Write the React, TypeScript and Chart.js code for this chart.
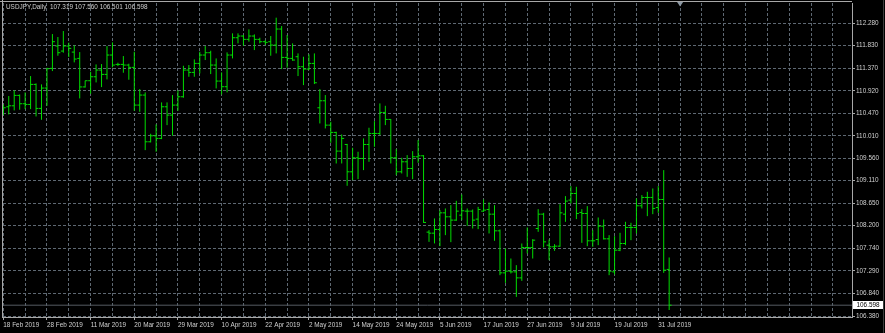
import React, { useEffect, useRef } from 'react';
import { Chart, registerables } from 'chart.js';

Chart.register(...registerables);

// ---- data ----
const symbolTitle = 'USDJPY,Daily';

const xTickLabels = [
  '18 Feb 2019', '28 Feb 2019', '11 Mar 2019', '20 Mar 2019', '29 Mar 2019', '10 Apr 2019',
  '22 Apr 2019', '2 May 2019', '14 May 2019', '24 May 2019', '5 Jun 2019', '17 Jun 2019',
  '27 Jun 2019', '9 Jul 2019', '19 Jul 2019', '31 Jul 2019',
];

const yTickLabels = [
  '106.380', '106.840', '107.290', '107.740', '108.200', '108.650', '109.110',
  '109.560', '110.010', '110.470', '110.920', '111.370', '111.830', '112.280',
];

const opens = [
  110.497, 110.598, 110.618, 110.827, 110.659, 110.645, 111.049, 110.565, 110.975, 111.372,
  111.822, 111.721, 111.822, 111.700, 111.573, 110.998, 111.123, 111.203, 111.338, 111.251,
  111.641, 111.452, 111.452, 111.439, 111.392, 110.632, 110.834, 109.892, 110.013, 109.960,
  110.598, 110.430, 110.632, 110.800, 111.338, 111.291, 111.472, 111.641, 111.688, 111.439,
  111.116, 111.002, 111.641, 111.990, 112.024, 111.957, 112.024, 111.957, 111.910, 111.910,
  111.842, 112.165, 111.593, 111.573, 111.607, 111.405, 111.358, 111.472, 110.578, 110.719,
  110.228, 110.081, 109.704, 109.838, 109.287, 109.570, 109.556, 109.838, 110.060, 110.060,
  110.484, 110.343, 109.570, 109.287, 109.489, 109.354, 109.590, 109.610, 108.071, 108.050,
  108.125, 108.460, 108.380, 108.313, 108.413, 108.494, 108.494, 108.333, 108.494, 108.527,
  108.433, 108.097, 107.250, 107.284, 107.270, 107.149, 107.761, 107.761, 108.144, 108.433,
  107.808, 107.775, 107.788, 108.433, 108.716, 108.850, 108.467, 108.447, 107.896, 107.922,
  108.191, 107.936, 107.270, 107.707, 107.842, 108.165, 108.165, 108.602, 108.770, 108.770,
  108.568, 108.729, 107.319,
];

const highs = [
  110.645, 110.814, 110.928, 110.847, 110.888, 111.217, 111.069, 111.049, 111.385, 112.064,
  112.004, 112.125, 111.889, 111.836, 111.700, 111.123, 111.304, 111.452, 111.459, 111.822,
  111.896, 111.486, 111.620, 111.466, 111.708, 110.955, 110.888, 110.054, 110.242, 110.686,
  110.686, 110.834, 110.928, 111.425, 111.439, 111.553, 111.708, 111.822, 111.728, 111.573,
  111.291, 111.694, 112.078, 112.078, 112.044, 112.158, 112.057, 111.990, 111.943, 112.024,
  112.394, 112.226, 112.044, 111.876, 111.674, 111.607, 111.654, 111.674, 110.955, 110.834,
  110.296, 110.094, 110.040, 109.850, 109.771, 109.691, 109.960, 110.175, 110.309, 110.666,
  110.618, 110.350, 109.744, 109.570, 109.623, 109.704, 109.926, 109.623, 108.111, 108.347,
  108.514, 108.548, 108.615, 108.702, 108.830, 108.548, 108.527, 108.581, 108.729, 108.669,
  108.615, 108.124, 107.741, 107.539, 107.405, 107.842, 108.165, 107.929, 108.534, 108.460,
  107.922, 107.828, 108.635, 108.797, 108.998, 108.985, 108.534, 108.595, 108.111, 108.366,
  108.326, 108.010, 107.990, 108.057, 108.279, 108.259, 108.750, 108.817, 108.884, 108.951,
  108.998, 109.321, 107.560,
];

const lows = [
  110.430, 110.443, 110.525, 110.538, 110.551, 110.551, 110.403, 110.336, 110.618, 111.318,
  111.627, 111.688, 111.600, 111.493, 110.767, 110.985, 110.861, 111.089, 110.995, 111.150,
  111.392, 111.419, 111.284, 111.143, 110.518, 110.497, 109.724, 109.880, 109.691, 109.946,
  110.228, 110.013, 110.518, 110.780, 111.203, 111.203, 111.271, 111.540, 111.257, 110.968,
  110.847, 110.888, 111.573, 111.876, 111.829, 111.910, 111.741, 111.876, 111.842, 111.627,
  111.674, 111.358, 111.385, 111.526, 111.217, 111.035, 111.338, 111.056, 110.262, 110.161,
  109.872, 109.455, 109.455, 109.005, 109.119, 109.139, 109.321, 109.489, 109.791, 110.027,
  110.228, 109.455, 109.220, 109.253, 109.186, 109.139, 109.469, 108.258, 107.875, 107.843,
  107.788, 108.010, 107.869, 108.299, 108.313, 108.198, 108.144, 108.131, 108.480, 108.044,
  107.896, 107.203, 107.048, 107.237, 106.766, 107.089, 107.640, 107.539, 108.077, 107.761,
  107.506, 107.694, 107.775, 108.279, 108.649, 108.333, 107.855, 107.788, 107.775, 107.808,
  107.922, 107.203, 107.217, 107.687, 107.808, 107.909, 108.044, 108.548, 108.393, 108.433,
  108.460, 107.250, 106.501,
];

const closes = [
  110.578, 110.618, 110.827, 110.659, 110.645, 111.049, 110.565, 110.975, 111.365, 111.910,
  111.688, 111.822, 111.775, 111.560, 110.998, 111.123, 111.203, 111.338, 111.251, 111.641,
  111.439, 111.452, 111.439, 111.392, 110.632, 110.834, 109.892, 110.013, 109.960, 110.598,
  110.430, 110.632, 110.800, 111.338, 111.291, 111.472, 111.641, 111.688, 111.439, 111.116,
  111.002, 111.641, 111.990, 112.024, 111.957, 112.024, 111.957, 111.910, 111.896, 111.842,
  112.165, 111.593, 111.573, 111.540, 111.405, 111.358, 111.472, 111.082, 110.719, 110.228,
  110.081, 109.704, 109.960, 109.287, 109.570, 109.556, 109.838, 110.060, 110.060, 110.484,
  110.343, 109.570, 109.287, 109.489, 109.354, 109.590, 109.610, 108.266, 108.050, 108.125,
  108.460, 108.380, 108.313, 108.494, 108.501, 108.494, 108.313, 108.527, 108.514, 108.433,
  108.097, 107.250, 107.284, 107.270, 107.149, 107.761, 107.761, 107.909, 108.433, 107.875,
  107.775, 107.788, 108.460, 108.696, 108.850, 108.447, 108.447, 107.896, 107.896, 108.191,
  107.936, 107.284, 107.707, 107.842, 108.165, 108.165, 108.602, 108.770, 108.770, 108.548,
  108.729, 107.304, 106.598,
];

const shiftMarkerIndex = 124;

// ---- style ----
const FONT = "'Liberation Sans', Arial, sans-serif";
const FONT_SIZE = 6.4;
const TEXT = '#d0d0d0';
const GRID = '#5e6872';
const FRAME = '#a8a8a8';
const BAR = '#00dc00';

export default function App() {
  const ref = useRef<HTMLCanvasElement | null>(null);

  useEffect(() => {
    const canvas = ref.current;
    if (!canvas) return;
    const n = opens.length;
    const tick = 0.45;
    const segs: any[] = [];
    for (let i = 0; i < n; i++) {
      segs.push({ x: i, y: lows[i] }, { x: i, y: highs[i] }, { x: i, y: null });
      segs.push({ x: i - tick, y: opens[i] }, { x: i, y: opens[i] }, { x: i, y: null });
      segs.push({ x: i, y: closes[i] }, { x: i + tick, y: closes[i] }, { x: i, y: null });
    }
    const xMin = -0.055;
    const xMax = 155.5;
    const last = n - 1;
    const lastClose = closes[last];

    const decor = {
      id: 'mt4decor',
      beforeDraw(chart: any) {
        const c = chart.ctx;
        c.save();
        c.fillStyle = '#000';
        c.fillRect(0, 0, chart.width, chart.height);
        c.restore();
      },
      afterDraw(chart: any) {
        const c = chart.ctx;
        const xs = chart.scales.x;
        const ys = chart.scales.y;
        const area = chart.chartArea;
        c.save();
        // frame
        c.strokeStyle = FRAME;
        c.lineWidth = 1;
        c.beginPath();
        c.moveTo(0, 1.5);
        c.lineTo(area.right, 1.5);
        c.moveTo(2.5, 0);
        c.lineTo(2.5, area.bottom + 1);
        c.stroke();
        c.strokeStyle = '#3c3c3c';
        c.beginPath();
        c.moveTo(883.5, 0);
        c.lineTo(883.5, chart.height);
        c.stroke();
        // header text
        c.font = `${FONT_SIZE}px ${FONT}`;
        c.fillStyle = TEXT;
        c.textBaseline = 'middle';
        c.textAlign = 'left';
        const hdr = `${symbolTitle}  ${opens[last].toFixed(3)} ${highs[last].toFixed(3)} ${lows[last].toFixed(3)} ${closes[last].toFixed(3)}`;
        c.fillText(hdr, 6, 7.5);
        // current price label
        const py = ys.getPixelForValue(lastClose);
        c.fillStyle = '#ffffff';
        c.fillRect(area.right + 1, Math.round(py) - 4, 30, 8);
        c.fillStyle = '#000000';
        c.fillText(lastClose.toFixed(3), area.right + 4.5, Math.round(py) + 0.5);
        // shift marker
        const mx = xs.getPixelForValue(shiftMarkerIndex);
        c.fillStyle = '#8b97a3';
        c.beginPath();
        c.moveTo(mx - 3, 2);
        c.lineTo(mx + 3, 2);
        c.lineTo(mx, 6.5);
        c.closePath();
        c.fill();
        c.restore();
      },
    };

    const chart = new Chart(canvas, {
      type: 'line',
      data: {
        datasets: [
          {
            data: segs,
            borderColor: BAR,
            borderWidth: 1,
            pointRadius: 0,
            spanGaps: false,
            tension: 0,
          },
          {
            data: [{ x: xMin, y: lastClose }, { x: xMax, y: lastClose }],
            borderColor: '#545b62',
            borderWidth: 1,
            pointRadius: 0,
            tension: 0,
          },
        ],
      },
      options: {
        animation: false,
        responsive: false,
        maintainAspectRatio: false,
        devicePixelRatio: 1,
        events: [],
        layout: { padding: { left: 3, top: 3, right: 0, bottom: 0 } },
        plugins: { legend: { display: false }, tooltip: { enabled: false }, title: { display: false } },
        scales: {
          x: {
            type: 'linear',
            min: xMin,
            max: xMax,
            afterBuildTicks: (s: any) => {
              const t: any[] = [];
              for (let v = 0; v <= s.max; v += 4) t.push({ value: v });
              s.ticks = t;
            },
            afterFit: (s: any) => {
              s.height = 16;
              s.paddingLeft = 0;
              s.paddingRight = 0;
            },
            grid: {
              color: GRID,
              lineWidth: 1,
              drawTicks: true,
              tickLength: 3,
              tickWidth: 1,
              tickColor: (ctx: any) =>
                ctx.tick && ctx.tick.value % 8 === 0 && ctx.tick.value / 8 < xTickLabels.length ? FRAME : 'rgba(0,0,0,0)',
            },
            border: { display: true, color: FRAME, width: 1, dash: [3, 2] },
            ticks: {
              autoSkip: false,
              maxRotation: 0,
              minRotation: 0,
              align: 'start',
              padding: 1,
              color: TEXT,
              font: { family: FONT, size: FONT_SIZE },
              callback: (v: any) => {
                const k = Number(v) / 8;
                return Number.isInteger(k) && k < xTickLabels.length ? xTickLabels[k] : '';
              },
            },
          },
          y: {
            type: 'linear',
            position: 'right',
            min: 106.36,
            max: 112.69,
            afterBuildTicks: (s: any) => {
              s.ticks = yTickLabels.map((l) => ({ value: parseFloat(l) }));
            },
            afterFit: (s: any) => {
              s.width = 33;
              s.paddingTop = 0;
              s.paddingBottom = 0;
            },
            grid: {
              color: GRID,
              lineWidth: 1,
              drawTicks: true,
              tickLength: 3,
              tickColor: FRAME,
            },
            border: { display: true, color: FRAME, width: 1, dash: [3, 2] },
            ticks: {
              autoSkip: false,
              padding: 1,
              color: TEXT,
              font: { family: FONT, size: FONT_SIZE },
              callback: (_v: any, i: number) => yTickLabels[i],
            },
          },
        },
      },
      plugins: [decor],
    } as any);

    return () => chart.destroy();
  }, []);

  return (
    <div style={{ position: 'fixed', left: 0, top: 0, width: 885, height: 333, background: '#000' }}>
      <canvas ref={ref} width={885} height={333} style={{ display: 'block' }} />
    </div>
  );
}
